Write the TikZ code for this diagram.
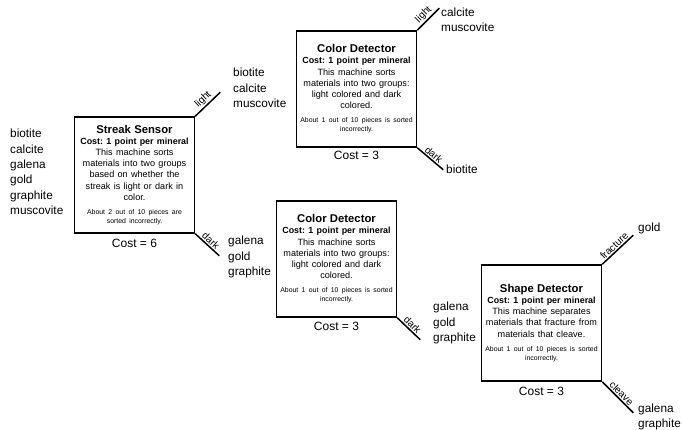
\documentclass[tikz,border=0pt]{standalone}
\usepackage{fontspec}
\setmainfont{Liberation Sans}
\frenchspacing
\usetikzlibrary{positioning}
\newcommand{\machinetext}[4]{%
{\fontsize{11.3}{12}\selectfont\bfseries #1\par}%
{\fontsize{8.9}{11}\selectfont\bfseries Cost: 1 point per mineral\par}%
{\fontsize{9.1}{11.2}\selectfont #2\par}\vspace{5pt}%
{\fontsize{6.9}{9}\selectfont\mbox{#3}\\\mbox{#4}\par}}
\begin{document}
\begin{tikzpicture}[x=1pt,y=-1pt,
    machine/.style={draw,line width=1.5pt,minimum width=120pt,minimum height=116pt,text width=116pt,align=center,inner sep=0pt},
    wire/.style={line width=1.5pt},
    mineral/.style={align=left,inner sep=0pt,font=\fontsize{11.8}{15.3}\selectfont},
    cost/.style={font=\fontsize{12}{14}\selectfont,inner sep=1pt},
    way/.style={sloped,above,inner sep=1pt,font=\fontsize{10}{11}\selectfont}]
  \useasboundingbox (0,0) rectangle (682,430);
  \node[machine] (streak) at (134.5,175) {\machinetext{Streak Sensor}{This machine sorts\\materials into two groups\\based on whether the\\streak is light or dark in\\color.}{About 2 out of 10 pieces are}{sorted incorrectly.}};
  \node[machine] (color1) at (356.5,89) {\machinetext{Color Detector}{This machine sorts\\materials into two groups:\\light colored and dark\\colored.}{About 1 out of 10 pieces is sorted}{incorrectly.}};
  \node[machine] (color2) at (336.5,259) {\machinetext{Color Detector}{This machine sorts\\materials into two groups:\\light colored and dark\\colored.}{About 1 out of 10 pieces is sorted}{incorrectly.}};
  \node[machine] (shape) at (541.5,323) {\machinetext{Shape Detector}{This machine separates\\materials that fracture from\\materials that cleave.}{About 1 out of 10 pieces is sorted}{incorrectly.}};
  \node[cost,below=4pt of streak] (streakcost) {Cost = 6};
  \node[cost,below=2.5pt of color1] (color1cost) {Cost = 3};
  \node[cost,below=3pt of color2] (color2cost) {Cost = 3};
  \node[cost,below=4.5pt of shape] (shapecost) {Cost = 3};
  \coordinate[above right=24pt and 25pt of streak.north east] (streakL);
  \coordinate[below right=22pt and 24pt of streak.south east] (streakD);
  \coordinate[above right=22pt and 22pt of color1.north east] (color1L);
  \coordinate[below right=22pt and 26pt of color1.south east] (color1D);
  \coordinate[below right=22pt and 23pt of color2.south east] (color2D);
  \coordinate[above right=29pt and 31pt of shape.north east] (shapeF);
  \coordinate[below right=31pt and 31pt of shape.south east] (shapeC);
  \draw[wire] (streak.north east) -- node[way]{light} (streakL);
  \draw[wire] (streak.south east) -- node[way]{dark} (streakD);
  \draw[wire] (color1.north east) -- node[way]{light} (color1L);
  \draw[wire] (color1.south east) -- node[way]{dark} (color1D);
  \draw[wire] (color2.south east) -- node[way]{dark} (color2D);
  \draw[wire] (shape.north east) -- node[way]{fracture} (shapeF);
  \draw[wire] (shape.south east) -- node[way]{cleave} (shapeC);
  \node[mineral,anchor=west] (allpile) at (10,172) {biotite\\calcite\\galena\\gold\\graphite\\muscovite};
  \node[mineral,anchor=west] (lightpile) at (233,88) {biotite\\calcite\\muscovite};
  \node[mineral,anchor=west] (darkpile) at (228,257) {galena\\gold\\graphite};
  \node[mineral,anchor=west] (lightout) at (441,20) {calcite\\muscovite};
  \node[mineral,anchor=west] (biotiteout) at (446,169) {biotite};
  \node[mineral,anchor=west] (shapepile) at (433,323) {galena\\gold\\graphite};
  \node[mineral,anchor=west] (goldout) at (638,228) {gold};
  \node[mineral,anchor=west] (cleaveout) at (638,417) {galena\\graphite};
\end{tikzpicture}
\end{document}
